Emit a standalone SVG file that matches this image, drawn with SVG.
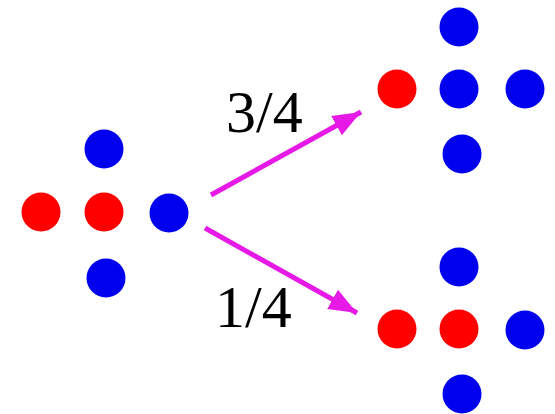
<svg xmlns="http://www.w3.org/2000/svg" width="555" height="414" viewBox="0 0 555 414">
<style>
.r{fill:#ff0000}
.b{fill:#0000ee}
.arr{stroke:#e619e6;stroke-width:5;fill:none}
.lbl{font-family:"Liberation Serif",serif;font-size:60px;fill:#000}
</style>
<defs>
<marker id="ah" markerUnits="userSpaceOnUse" markerWidth="30" markerHeight="24" refX="28" refY="11" orient="auto">
<path d="M0,0 L28,11 L0,22 Z" fill="#e619e6"/>
</marker>
</defs>
<rect width="555" height="414" fill="#fff"/>
<g id="left">
<circle class="b" cx="104" cy="149" r="19.5"/>
<circle class="r" cx="41" cy="212" r="19.5"/>
<circle class="r" cx="104" cy="212" r="19.5"/>
<circle class="b" cx="169" cy="213" r="19.5"/>
<circle class="b" cx="106" cy="278" r="19.5"/>
</g>
<g id="topright">
<circle class="b" cx="459" cy="27" r="19.5"/>
<circle class="r" cx="397" cy="89" r="19.5"/>
<circle class="b" cx="459" cy="89" r="19.5"/>
<circle class="b" cx="525" cy="89" r="19.5"/>
<circle class="b" cx="462" cy="154" r="19.5"/>
</g>
<g id="bottomright">
<circle class="b" cx="459" cy="267" r="19.5"/>
<circle class="r" cx="397" cy="329" r="19.5"/>
<circle class="r" cx="459" cy="329" r="19.5"/>
<circle class="b" cx="525" cy="330" r="19.5"/>
<circle class="b" cx="462" cy="394" r="19.5"/>
</g>
<g id="connectors">
<line class="arr" x1="211" y1="195" x2="361" y2="112" marker-end="url(#ah)"/>
<line class="arr" x1="205" y1="228" x2="357" y2="313" marker-end="url(#ah)"/>
</g>
<g id="labels">
<text class="lbl" x="226" y="132">3/4</text>
<text class="lbl" x="215" y="327">1/4</text>
</g>
</svg>
